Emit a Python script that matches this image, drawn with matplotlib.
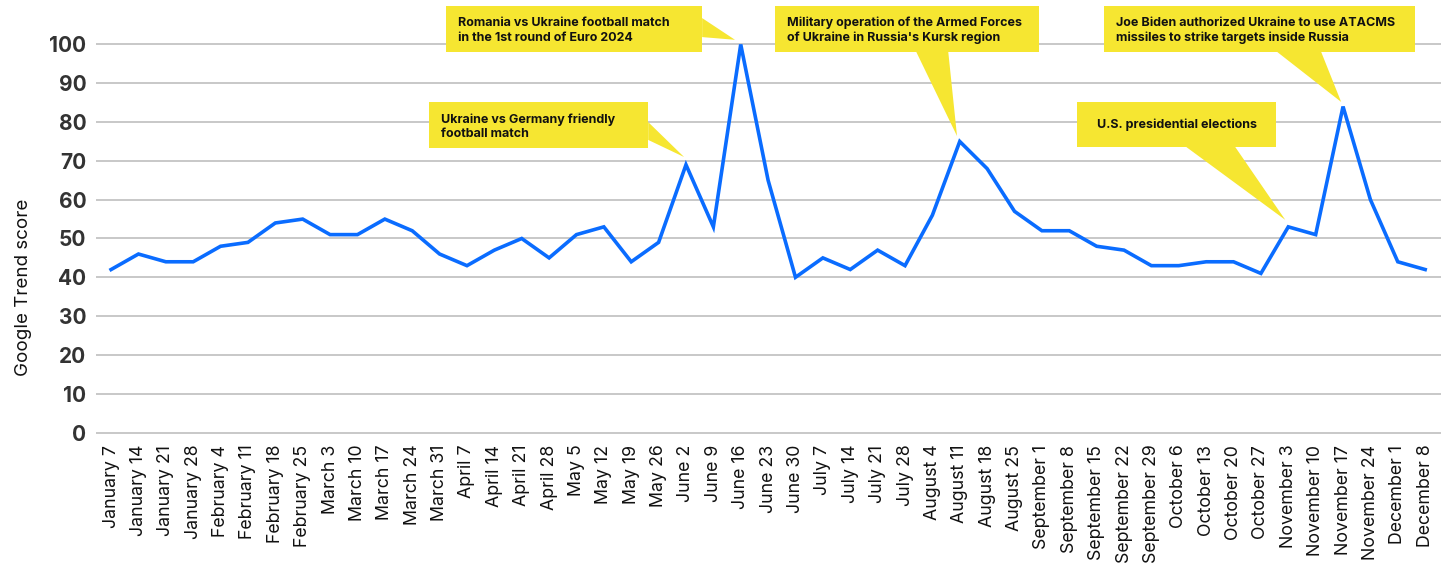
import matplotlib
matplotlib.use("Agg")
import matplotlib.pyplot as plt
from matplotlib.patches import Polygon, Rectangle

plt.rcParams["font.family"] = ["Inter", "DejaVu Sans"]

WEEKS = [
    "January 7", "January 14", "January 21", "January 28",
    "February 4", "February 11", "February 18", "February 25",
    "March 3", "March 10", "March 17", "March 24", "March 31",
    "April 7", "April 14", "April 21", "April 28",
    "May 5", "May 12", "May 19", "May 26",
    "June 2", "June 9", "June 16", "June 23", "June 30",
    "July 7", "July 14", "July 21", "July 28",
    "August 4", "August 11", "August 18", "August 25",
    "September 1", "September 8", "September 15", "September 22", "September 29",
    "October 6", "October 13", "October 20", "October 27",
    "November 3", "November 10", "November 17", "November 24",
    "December 1", "December 8",
]
SCORES = [
    42, 46, 44, 44, 48, 49, 54, 55, 51, 51, 55, 52, 46,
    43, 47, 50, 45, 51, 53, 44, 49,
    69, 53, 100, 65, 40, 45, 42, 47, 43,
    56, 75, 68, 57, 52, 52, 48, 47, 43,
    43, 44, 44, 41, 53, 51, 84, 60, 44, 42,
]
Y_TICKS = [0, 10, 20, 30, 40, 50, 60, 70, 80, 90, 100]

# events: (week, text, box (x0, y0, x1, y1), pointer base, tip offset, centred)
EVENTS = [
    ("June 2", "Ukraine vs Germany friendly\nfootball match",
     (11.62, 73.3, 19.62, 85.2), [(19.62, 80.0), (19.62, 75.4)], (-0.07, 2.0), False),
    ("June 16", "Romania vs Ukraine football match\nin the 1st round of Euro 2024",
     (12.24, 98.1, 21.59, 109.9), [(21.59, 106.8), (21.59, 101.9)], (-0.21, 1.2), False),
    ("August 11", "Military operation of the Armed Forces\nof Ukraine in Russia's Kursk region",
     (24.26, 98.1, 33.90, 109.9), [(29.41, 98.1), (30.58, 98.1)], (-0.1, 1.4), False),
    ("November 3", "U.S. presidential elections",
     (35.29, 73.6, 42.56, 85.2), [(39.27, 73.6), (41.06, 73.6)], (-0.11, 1.8), True),
    ("November 17", "Joe Biden authorized Ukraine to use ATACMS\nmissiles to strike targets inside Russia",
     (36.27, 98.1, 47.63, 109.9), [(42.59, 98.1), (44.20, 98.1)], (-0.07, 1.2), False),
]

YELLOW = "#F6E631"
BLUE = "#0A6CFF"

fig = plt.figure(figsize=(14.48, 5.74), dpi=100)
ax = fig.add_axes([0.0663, 0.2397, 0.9289, 0.6896])

x = list(range(len(WEEKS)))
ax.plot(x, SCORES, color=BLUE, linewidth=2.6, solid_joinstyle="miter", zorder=3)

ax.set_xlim(-0.55, 48.58)
ax.set_ylim(-1, 101)
ax.set_yticks(Y_TICKS)
ax.set_yticklabels([str(t) for t in Y_TICKS], fontsize=15, fontweight="bold", color="#333333")
ax.set_xticks(x)
ax.set_xticklabels(WEEKS, rotation=90, fontsize=12.8, color="#111111")
ax.tick_params(axis="both", length=0)
ax.tick_params(axis="y", pad=7)
ax.tick_params(axis="x", pad=6)
ax.yaxis.grid(True, color="#C8C8C8", linewidth=1.4)
ax.set_axisbelow(True)
for spine in ax.spines.values():
    spine.set_visible(False)
ax.set_ylabel("Google Trend score", fontsize=13.5, color="#111111")
ax.yaxis.set_label_coords(-0.0475, 0.377)

for week, text, (x0, y0, x1, y1), base, (dx, dy), centred in EVENTS:
    i = WEEKS.index(week)
    tip = (i + dx, SCORES[i] + dy)
    ax.add_patch(Polygon(base + [tip], closed=True, facecolor=YELLOW,
                         edgecolor="none", clip_on=False, zorder=4))
    ax.add_patch(Rectangle((x0, y0), x1 - x0, y1 - y0, facecolor=YELLOW,
                           edgecolor="none", clip_on=False, zorder=4))
    if centred:
        ax.text((x0 + x1) / 2, (y0 + y1) / 2, text, ha="center", va="center",
                fontsize=9, fontweight="bold", color="#111111", zorder=5)
    else:
        ax.text(x0 + 0.42, (y0 + y1) / 2 - 0.4, text, ha="left", va="center",
                fontsize=9, fontweight="bold", color="#111111",
                linespacing=1.25, zorder=5)

fig.savefig("out.png", dpi=100)
